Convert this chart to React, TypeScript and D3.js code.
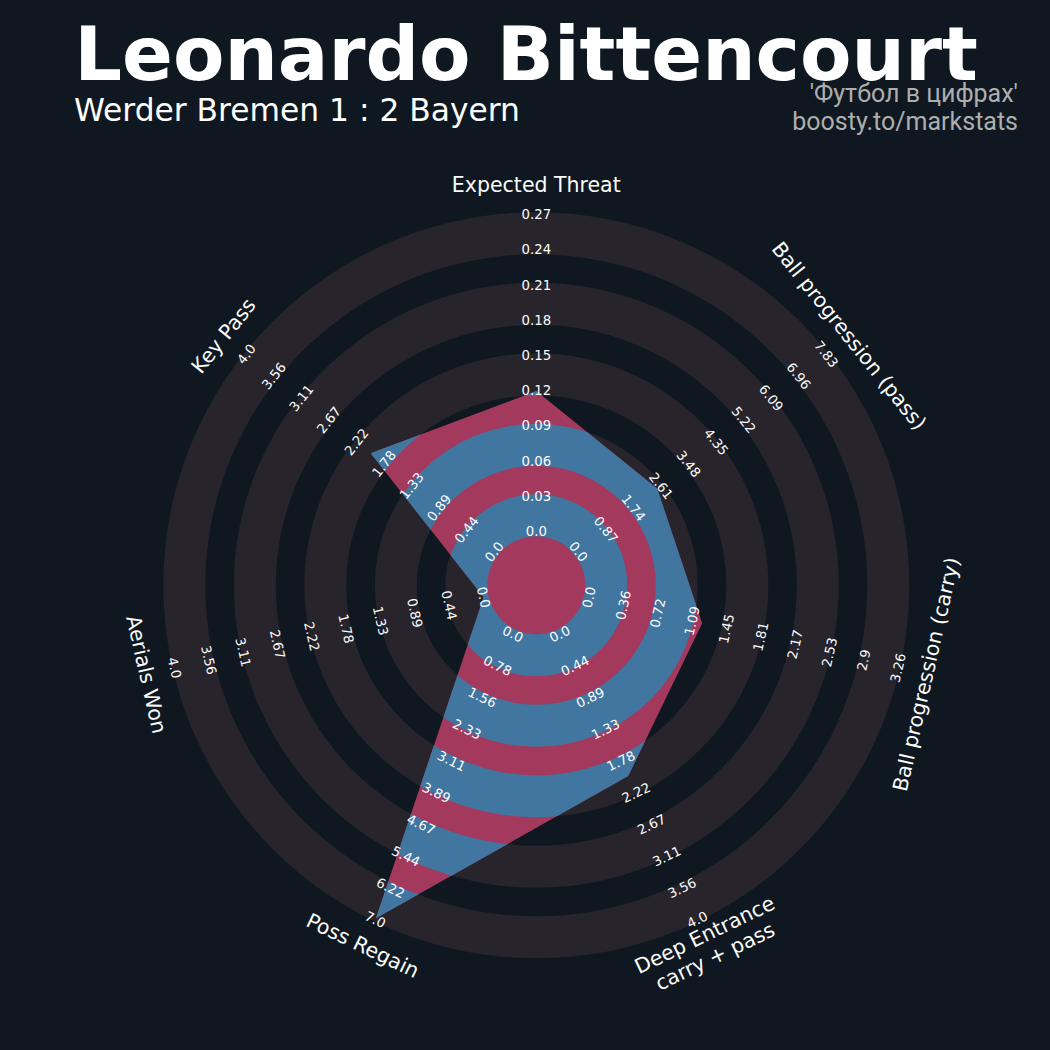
import React from "react";
import * as d3 from "d3";

const PARAMS = [
  "Expected Threat",
  "Ball progression (pass)",
  "Ball progression (carry)",
  "Deep Entrance\ncarry + pass",
  "Poss Regain",
  "Aerials Won",
  "Key Pass",
];
const VALUES = [0.12, 2.5, 1.2, 2.0, 7.0, 0.0, 2.0];
const LOWS = [0, 0, 0, 0, 0, 0, 0];
const HIGHS = [0.27, 7.83, 3.26, 4.0, 7.0, 4.0, 4.0];
const XT_TICKS = ["0.0", "0.03", "0.06", "0.09", "0.12", "0.15", "0.18", "0.21", "0.24", "0.27"];
const PASS_TICKS = ["0.0", "0.87", "1.74", "2.61", "3.48", "4.35", "5.22", "6.09", "6.96", "7.83"];
const CARRY_TICKS = ["0.0", "0.36", "0.72", "1.09", "1.45", "1.81", "2.17", "2.53", "2.9", "3.26"];
const DEEP_TICKS = ["0.0", "0.44", "0.89", "1.33", "1.78", "2.22", "2.67", "3.11", "3.56", "4.0"];
const REGAIN_TICKS = ["0.0", "0.78", "1.56", "2.33", "3.11", "3.89", "4.67", "5.44", "6.22", "7.0"];
const AERIAL_TICKS = ["0.0", "0.44", "0.89", "1.33", "1.78", "2.22", "2.67", "3.11", "3.56", "4.0"];
const KEYPASS_TICKS = ["0.0", "0.44", "0.89", "1.33", "1.78", "2.22", "2.67", "3.11", "3.56", "4.0"];
const TICKS = [XT_TICKS, PASS_TICKS, CARRY_TICKS, DEEP_TICKS, REGAIN_TICKS, AERIAL_TICKS, KEYPASS_TICKS];

const TITLE = "Leonardo Bittencourt";
const SUBTITLE = "Werder Bremen 1 : 2 Bayern";
const CREDIT = ["'Футбол в цифрах'", "boosty.to/markstats"];

const W = 1050;
const H = 1050;
const CX = 536.3;
const CY = 585.3;
const BG = "#0f1820";
const RING = "#28242b";
const PINK = "#a33a5e";
const BLUE = "#4076a0";

// ring geometry (pixels)
const CENTER_R = 49;
const PERIOD = 70.5;
const RING_W = 42;
const NUM_RINGS = 5;
const R0 = 54;
const R1 = 369.5;
const TICK_R1 = 371;
const LABEL_R = 400;

export default function App() {
  const n = PARAMS.length;
  const angDeg = (i: number) => 90 - (i * 360) / n;
  const norm = (a: number) => {
    let x = a;
    while (x > 180) x -= 360;
    while (x <= -180) x += 360;
    return x;
  };
  const rotFor = (i: number) => {
    const a = norm(angDeg(i));
    const m = a >= 0 ? a - 90 : a + 90;
    return -m;
  };
  const pos = (i: number, r: number): [number, number] => {
    const a = (angDeg(i) * Math.PI) / 180;
    return [CX + r * Math.cos(a), CY - r * Math.sin(a)];
  };

  const scales = PARAMS.map((_, i) =>
    d3.scaleLinear().domain([LOWS[i], HIGHS[i]]).range([R0, R1])
  );
  const pts = VALUES.map((v, i) => pos(i, scales[i](v)));
  const polyPath = d3.line().curve(d3.curveLinearClosed)(pts as [number, number][]) || "";

  const arc = d3.arc<any>();
  const rings = d3.range(NUM_RINGS).map((k) => {
    const inner = CENTER_R + k * PERIOD;
    return arc({ innerRadius: inner, outerRadius: inner + RING_W, startAngle: 0, endAngle: 2 * Math.PI }) || "";
  });

  const tickScale = d3.scaleLinear().domain([0, 9]).range([R0, TICK_R1]);

  return (
    <svg
      width={W}
      height={H}
      viewBox={`0 0 ${W} ${H}`}
      style={{ position: "absolute", left: 0, top: 0, display: "block" }}
    >
      <defs>
        <clipPath id="radarClip">
          <path d={polyPath} />
        </clipPath>
      </defs>
      <rect x={0} y={0} width={W} height={H} fill={BG} />

      <g transform={`translate(${CX},${CY})`}>
        {rings.map((d, k) => (
          <path key={k} d={d} fill={RING} />
        ))}
      </g>

      <path d={polyPath} fill={PINK} />
      <g clipPath="url(#radarClip)">
        <g transform={`translate(${CX},${CY})`}>
          {rings.map((d, k) => (
            <path key={k} d={d} fill={BLUE} />
          ))}
        </g>
      </g>

      {TICKS.map((labels, i) =>
        labels.map((lab, k) => {
          const [x, y] = pos(i, tickScale(k));
          return (
            <text
              key={`${i}-${k}`}
              x={x}
              y={y}
              dy="0.36em"
              transform={`rotate(${rotFor(i)},${x},${y})`}
              textAnchor="middle"
              fontFamily="DejaVu Sans"
              fontSize={13.3}
              fill="#fcfcfc"
            >
              {lab}
            </text>
          );
        })
      )}

      {PARAMS.map((p, i) => {
        const [x, y] = pos(i, LABEL_R);
        const lines = p.split("\n");
        const lh = 24;
        return (
          <text
            key={p}
            x={x}
            y={y}
            transform={`rotate(${rotFor(i)},${x},${y})`}
            textAnchor="middle"
            dominantBaseline="central"
            fontFamily="DejaVu Sans"
            fontSize={20.5}
            fill="#fcfcfc"
          >
            {lines.map((ln, j) => (
              <tspan key={j} x={x} y={y + (j - (lines.length - 1) / 2) * lh}>
                {ln}
              </tspan>
            ))}
          </text>
        );
      })}

      <text
        x={526}
        y={80}
        textAnchor="middle"
        fontFamily="DejaVu Sans"
        fontWeight="bold"
        fontSize={75}
        fill="#ffffff"
      >
        {TITLE}
      </text>
      <text x={74} y={121} fontFamily="DejaVu Sans" fontSize={31.3} fill="#ffffff">
        {SUBTITLE}
      </text>
      {CREDIT.map((c, j) => (
        <text
          key={c}
          x={1018}
          y={102 + j * 28}
          textAnchor="end"
          fontFamily="Roboto"
          fontSize={25}
          fill="#aeaeae"
        >
          {c}
        </text>
      ))}
    </svg>
  );
}
